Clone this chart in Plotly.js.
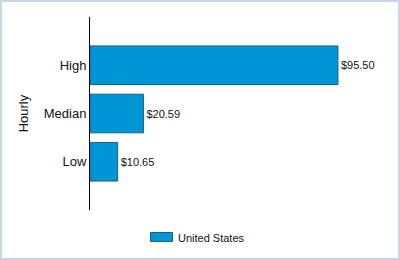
<!DOCTYPE html>
<html>
<head>
<script src="https://cdn.plot.ly/plotly-3.0.1.min.js"></script>
<style>
html,body{margin:0;padding:0;background:#fff;}
#wrap{position:relative;width:400px;height:260px;}
#chart{width:400px;height:260px;}
#frame{position:absolute;left:0;top:0;width:400px;height:260px;box-sizing:border-box;border:2px solid #c8d6e4;pointer-events:none;}
</style>
</head>
<body>
<div id="wrap"><div id="chart"></div><div id="frame"></div></div>
<script>
const categories = ["Low", "Median", "High"];
const values = [10.65, 20.59, 95.50];
const labels = ["$10.65", "$20.59", "$95.50"];
const seriesName = "United States";
const axisTitle = "Hourly";

const barColor = "#0096d6";
const barLine = "#1b5e86";

const trace = {
  type: "bar",
  orientation: "h",
  y: categories,
  x: values,
  name: seriesName,
  text: labels,
  textposition: "outside",
  cliponaxis: false,
  textfont: {family: "Arial, Liberation Sans, sans-serif", size: 11, color: "#111"},
  marker: {color: barColor, line: {color: barLine, width: 1}},
  hoverinfo: "none",
  showlegend: false
};

// plot area: x 90..380 px, y 17..210 px
const px2x = p => (p - 90) / 290;
const px2y = p => (210 - p) / 193;

const layout = {
  width: 400, height: 260,
  margin: {l: 90, r: 20, t: 17, b: 50},
  paper_bgcolor: "#fff", plot_bgcolor: "#fff",
  font: {family: "Arial, Liberation Sans, sans-serif", color: "#222"},
  bargap: 0.2,
  showlegend: false,
  xaxis: {range: [0, 111.7], visible: false, showgrid: false, zeroline: false},
  yaxis: {
    type: "category", categoryorder: "array", categoryarray: categories,
    range: [-1, 3], showline: true, linecolor: "#000", linewidth: 1,
    ticks: "", showgrid: false, zeroline: false,
    tickfont: {size: 13, color: "#111"},
    title: {text: axisTitle, font: {size: 13, color: "#111"}, standoff: 12}
  },
  shapes: [{
    type: "rect", xref: "paper", yref: "paper",
    x0: px2x(150.5), x1: px2x(172.5), y0: px2y(241.5), y1: px2y(232.5),
    fillcolor: barColor, line: {color: barLine, width: 1}
  }],
  annotations: [{
    text: seriesName, xref: "paper", yref: "paper",
    x: px2x(176), y: px2y(238), xanchor: "left", yanchor: "middle",
    showarrow: false, font: {size: 11, color: "#111"}
  }]
};

Plotly.newPlot("chart", [trace], layout, {staticPlot: true, displayModeBar: false});
</script>
</body>
</html>
